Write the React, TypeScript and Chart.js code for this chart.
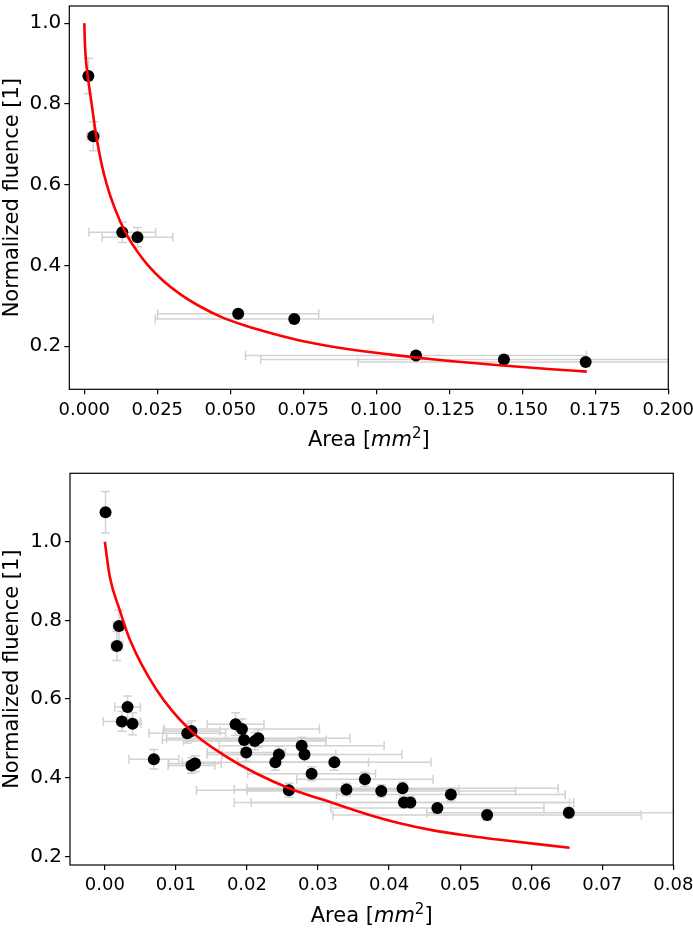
import React, { useEffect, useRef } from "react";
import { Chart, registerables } from "chart.js";

Chart.register(...registerables);

// ---------- Top panel ----------
const topAreaX = [0.0014, 0.0031, 0.013, 0.0182, 0.0527, 0.0719, 0.1136, 0.1437, 0.1717];
const topFluenceY = [0.869, 0.72, 0.482, 0.47, 0.28, 0.267, 0.177, 0.167, 0.161];
const topAreaErr = [0.0005, 0.0021, 0.0114, 0.0121, 0.0276, 0.0476, 0.0584, 0.0833, 0.078];
const topFluenceErr = [0.044, 0.036, 0.025, 0.024, 0.006, 0.006, 0.005, 0.005, 0.005];
const topFitX = [0.0, 0.0002, 0.0006, 0.0012, 0.0025, 0.004, 0.0058, 0.0077, 0.0105, 0.0145, 0.018, 0.0216, 0.027, 0.0328, 0.04, 0.0476, 0.055, 0.065, 0.075, 0.09, 0.105, 0.12, 0.14, 0.16, 0.1721];
const topFitY = [1.0, 0.95, 0.905, 0.868, 0.8, 0.725, 0.655, 0.6, 0.54, 0.476, 0.436, 0.402, 0.362, 0.329, 0.297, 0.27, 0.251, 0.23, 0.212, 0.193, 0.179, 0.167, 0.154, 0.143, 0.137];
const topXTicks = [0.0, 0.025, 0.05, 0.075, 0.1, 0.125, 0.15, 0.175, 0.2];
const topYTicks = [0.2, 0.4, 0.6, 0.8, 1.0];

// ---------- Bottom panel ----------
const botAreaX = [
  0.0001, 0.002, 0.0017, 0.0032, 0.0024, 0.0039, 0.0069, 0.0116, 0.0122, 0.0122, 0.0127,
  0.0184, 0.0193, 0.0196, 0.0199, 0.0211, 0.0216, 0.024, 0.0245, 0.0259, 0.0277, 0.0281,
  0.0291, 0.0323, 0.034, 0.0366, 0.0389, 0.0419, 0.0421, 0.043, 0.0468, 0.0487, 0.0538, 0.0653,
];
const botFluenceY = [
  1.075, 0.786, 0.735, 0.58, 0.543, 0.537, 0.447, 0.513, 0.519, 0.431, 0.436,
  0.536, 0.524, 0.496, 0.464, 0.493, 0.5, 0.439, 0.459, 0.368, 0.481, 0.459,
  0.41, 0.439, 0.37, 0.396, 0.366, 0.373, 0.337, 0.337, 0.323, 0.357, 0.305, 0.311,
];
const botAreaErr = [
  0.0, 0.0008, 0.0008, 0.0018, 0.0026, 0.0012, 0.0035, 0.0054, 0.004, 0.0033, 0.0037,
  0.004, 0.0109, 0.0115, 0.0055, 0.01, 0.0129, 0.0131, 0.008, 0.013, 0.0116, 0.0137,
  0.009, 0.0136, 0.0158, 0.0096, 0.0189, 0.0219, 0.0239, 0.0224, 0.015, 0.0161, 0.0217, 0.02,
];
const botFluenceErr = [
  0.053, 0.04, 0.037, 0.028, 0.025, 0.028, 0.025, 0.025, 0.025, 0.02, 0.02,
  0.029, 0.025, 0.022, 0.022, 0.022, 0.022, 0.02, 0.02, 0.018, 0.022, 0.02,
  0.018, 0.02, 0.016, 0.018, 0.016, 0.016, 0.015, 0.015, 0.014, 0.016, 0.014, 0.014,
];
const botFitX = [0.0, 0.0007, 0.0021, 0.0035, 0.0073, 0.012, 0.0167, 0.0214, 0.0261, 0.0322, 0.0369, 0.0415, 0.0462, 0.0509, 0.0556, 0.0654];
const botFitY = [1.0, 0.911, 0.826, 0.752, 0.623, 0.521, 0.458, 0.41, 0.372, 0.335, 0.307, 0.284, 0.266, 0.253, 0.242, 0.222];
const botXTicks = [0.0, 0.01, 0.02, 0.03, 0.04, 0.05, 0.06, 0.07, 0.08];
const botYTicks = [0.2, 0.4, 0.6, 0.8, 1.0];

const FONT = '"DejaVu Sans", "Liberation Sans", sans-serif';
const XTICK_SIZE = 18;
const YTICK_SIZE = 20;
const LABEL_SIZE = 21;

type PanelSpec = {
  px: number[]; py: number[]; ex: number[]; ey: number[];
  fx: number[]; fy: number[];
  xMin: number; xMax: number; yMin: number; yMax: number;
  xTicks: number[]; yTicks: number[]; xDec: number; yDec: number;
  padTop: number; padRight: number; yAxisWidth: number; xAxisHeight: number;
};

function buildConfig(p: PanelSpec): any {
  const errorBars = {
    id: "errorBars",
    beforeDatasetsDraw(chart: any) {
      const { ctx, chartArea, scales } = chart;
      const xs = scales.x, ys = scales.y;
      ctx.save();
      ctx.beginPath();
      ctx.rect(chartArea.left, chartArea.top, chartArea.right - chartArea.left, chartArea.bottom - chartArea.top);
      ctx.clip();
      ctx.strokeStyle = "#d2d2d2";
      ctx.lineWidth = 1.5;
      const cap = 4.5;
      for (let i = 0; i < p.px.length; i++) {
        const cx = xs.getPixelForValue(p.px[i]);
        const cy = ys.getPixelForValue(p.py[i]);
        if (p.ex[i] > 0) {
          const x1 = xs.getPixelForValue(p.px[i] - p.ex[i]);
          const x2 = xs.getPixelForValue(p.px[i] + p.ex[i]);
          ctx.beginPath();
          ctx.moveTo(x1, cy); ctx.lineTo(x2, cy);
          ctx.moveTo(x1, cy - cap); ctx.lineTo(x1, cy + cap);
          ctx.moveTo(x2, cy - cap); ctx.lineTo(x2, cy + cap);
          ctx.stroke();
        }
        if (p.ey[i] > 0) {
          const y1 = ys.getPixelForValue(p.py[i] - p.ey[i]);
          const y2 = ys.getPixelForValue(p.py[i] + p.ey[i]);
          ctx.beginPath();
          ctx.moveTo(cx, y1); ctx.lineTo(cx, y2);
          ctx.moveTo(cx - cap, y1); ctx.lineTo(cx + cap, y1);
          ctx.moveTo(cx - cap, y2); ctx.lineTo(cx + cap, y2);
          ctx.stroke();
        }
      }
      ctx.restore();
    },
  };

  const frameAndTitle = {
    id: "frameAndTitle",
    afterDraw(chart: any) {
      const { ctx, chartArea } = chart;
      ctx.save();
      ctx.strokeStyle = "#000";
      ctx.lineWidth = 1.2;
      ctx.strokeRect(chartArea.left, chartArea.top, chartArea.right - chartArea.left, chartArea.bottom - chartArea.top);
      // x-axis title: Area [mm^2] with italic mm and superscript 2
      const s = LABEL_SIZE;
      const parts = [
        { t: "Area [", f: `${s}px ${FONT}`, dy: 0 },
        { t: "mm", f: `italic ${s}px ${FONT}`, dy: 0 },
        { t: "2", f: `${Math.round(s * 0.7)}px ${FONT}`, dy: -s * 0.38 },
        { t: "]", f: `${s}px ${FONT}`, dy: 0 },
      ];
      let total = 0;
      const widths = parts.map((pt) => { ctx.font = pt.f; const w = ctx.measureText(pt.t).width; total += w; return w; });
      let x = (chartArea.left + chartArea.right) / 2 - total / 2;
      const baseY = chartArea.bottom + 57;
      ctx.fillStyle = "#000";
      ctx.textBaseline = "alphabetic";
      ctx.textAlign = "left";
      parts.forEach((pt, i) => { ctx.font = pt.f; ctx.fillText(pt.t, x, baseY + pt.dy); x += widths[i]; });
      ctx.restore();
    },
  };

  const zeroPad = (scale: any) => {
    scale.paddingLeft = 0; scale.paddingRight = 0; scale.paddingTop = 0; scale.paddingBottom = 0;
  };

  return {
    type: "scatter",
    data: {
      datasets: [
        {
          label: "fit",
          data: p.fx.map((x, i) => ({ x, y: p.fy[i] })),
          showLine: true,
          borderColor: "#ff0000",
          backgroundColor: "#ff0000",
          borderWidth: 2.6,
          pointRadius: 0,
          cubicInterpolationMode: "monotone",
          fill: false,
          order: 0,
        },
        {
          label: "data",
          data: p.px.map((x, i) => ({ x, y: p.py[i] })),
          backgroundColor: "#000",
          borderWidth: 0,
          pointRadius: 6,
          order: 1,
        },
      ],
    },
    options: {
      responsive: false,
      animation: false,
      layout: { padding: { top: p.padTop, right: p.padRight, left: 0, bottom: 0 } },
      plugins: { legend: { display: false }, tooltip: { enabled: false } },
      scales: {
        x: {
          type: "linear",
          min: p.xMin,
          max: p.xMax,
          border: { display: false },
          grid: { display: true, drawOnChartArea: false, drawTicks: true, tickLength: 5, color: "#000", lineWidth: 1.2 },
          ticks: {
            autoSkip: false, maxRotation: 0, minRotation: 0, padding: 5,
            color: "#000", font: { family: FONT, size: XTICK_SIZE },
            callback: (v: any) => Number(v).toFixed(p.xDec),
          },
          afterBuildTicks: (scale: any) => { scale.ticks = p.xTicks.map((v) => ({ value: v })); },
          afterFit: (scale: any) => { scale.height = p.xAxisHeight; zeroPad(scale); },
        },
        y: {
          type: "linear",
          min: p.yMin,
          max: p.yMax,
          border: { display: false },
          grid: { display: true, drawOnChartArea: false, drawTicks: true, tickLength: 5, color: "#000", lineWidth: 1.2 },
          ticks: {
            autoSkip: false, padding: 3,
            color: "#000", font: { family: FONT, size: YTICK_SIZE },
            callback: (v: any) => Number(v).toFixed(p.yDec),
          },
          title: {
            display: true, text: "Normalized fluence [1]", color: "#000",
            font: { family: FONT, size: LABEL_SIZE }, padding: { top: 0, bottom: 0 },
          },
          afterBuildTicks: (scale: any) => { scale.ticks = p.yTicks.map((v) => ({ value: v })); },
          afterFit: (scale: any) => { scale.width = p.yAxisWidth; zeroPad(scale); },
        },
      },
    },
    plugins: [errorBars, frameAndTitle],
  };
}

export default function App() {
  const topRef = useRef<HTMLCanvasElement>(null);
  const botRef = useRef<HTMLCanvasElement>(null);

  useEffect(() => {
    const top = new Chart(topRef.current as HTMLCanvasElement, buildConfig({
      px: topAreaX, py: topFluenceY, ex: topAreaErr, ey: topFluenceErr,
      fx: topFitX, fy: topFitY,
      xMin: -0.00514, xMax: 0.2, yMin: 0.0932, yMax: 1.0424,
      xTicks: topXTicks, yTicks: topYTicks, xDec: 3, yDec: 1,
      padTop: 1.7, padRight: 24.7, yAxisWidth: 69.3, xAxisHeight: 460 - 389.3,
    }));
    const bot = new Chart(botRef.current as HTMLCanvasElement, buildConfig({
      px: botAreaX, py: botFluenceY, ex: botAreaErr, ey: botFluenceErr,
      fx: botFitX, fy: botFitY,
      xMin: -0.0049, xMax: 0.08, yMin: 0.178, yMax: 1.174,
      xTicks: botXTicks, yTicks: botYTicks, xDec: 2, yDec: 1,
      padTop: 13.3, padRight: 19.7, yAxisWidth: 70, xAxisHeight: 474 - 405,
    }));
    return () => { top.destroy(); bot.destroy(); };
  }, []);

  return (
    <div style={{ position: "absolute", left: 0, top: 0, width: 693, height: 934, background: "#fff" }}>
      <canvas ref={topRef} width={693} height={460} style={{ position: "absolute", left: 0, top: 0, width: 693, height: 460 }} />
      <canvas ref={botRef} width={693} height={474} style={{ position: "absolute", left: 0, top: 460, width: 693, height: 474 }} />
    </div>
  );
}
